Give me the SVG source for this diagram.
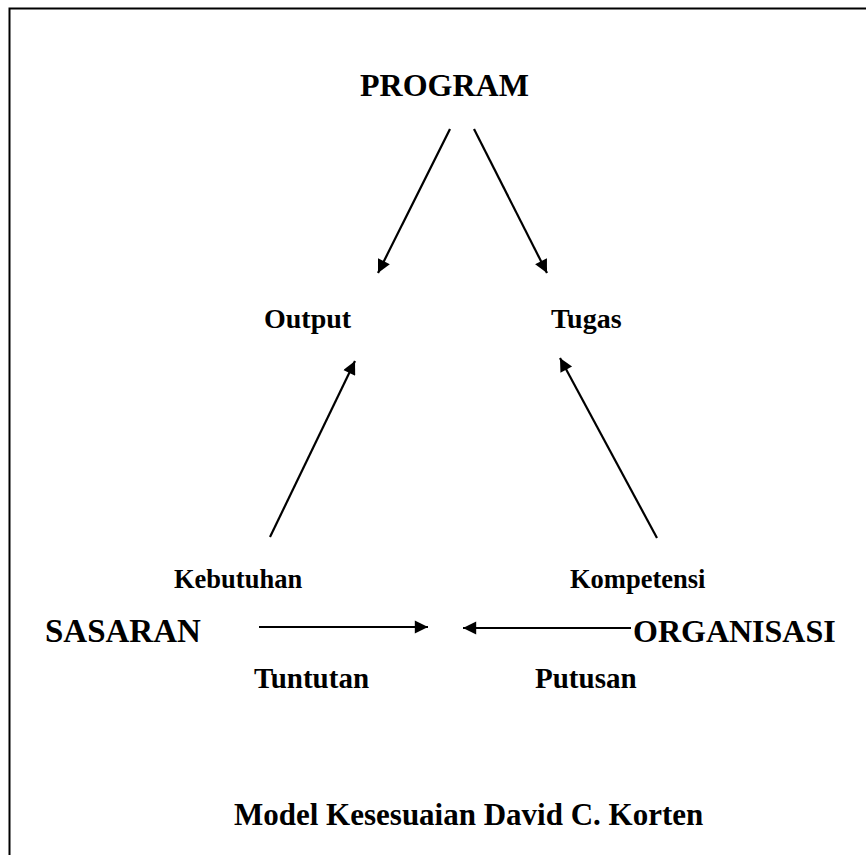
<svg xmlns="http://www.w3.org/2000/svg" width="866" height="855" viewBox="0 0 866 855">
<style>
text{font-family:"Liberation Serif","Times New Roman",serif;font-weight:bold;fill:#000}
.big{font-size:32px}
.mid{font-size:28px}
.lab{font-size:29px}
.cap{font-size:31px}
.sm{font-size:26.5px}
.conn line{stroke:#000;stroke-width:2.2;fill:none}
</style>
<defs>
<marker id="ah" viewBox="0 0 10 10" refX="10" refY="5" markerWidth="7" markerHeight="6" markerUnits="strokeWidth" orient="auto">
<path d="M0,0 L10,5 L0,10 Z" fill="#000"/>
</marker>
</defs>
<rect width="866" height="855" fill="#fff"/>
<path d="M9.5,860 V8.5 H870" fill="none" stroke="#000" stroke-width="2"/>
<g id="program"><text class="big" x="360" y="96">PROGRAM</text></g>
<g id="output"><text class="mid" x="264" y="328">Output</text></g>
<g id="tugas"><text class="mid" x="551" y="328">Tugas</text></g>
<g id="kebutuhan"><text class="sm" x="174" y="588">Kebutuhan</text></g>
<g id="kompetensi"><text class="sm" x="570" y="588">Kompetensi</text></g>
<g id="sasaran"><text style="font-size:33px" x="45" y="642">SASARAN</text></g>
<g id="organisasi"><text class="big" x="633" y="642">ORGANISASI</text></g>
<g id="tuntutan"><text class="lab" x="254" y="688">Tuntutan</text></g>
<g id="putusan"><text class="lab" x="535" y="688">Putusan</text></g>
<g id="caption"><text class="cap" x="234" y="825">Model Kesesuaian David C. Korten</text></g>
<g class="conn" id="connectors">
<line x1="450" y1="129" x2="378" y2="273" marker-end="url(#ah)"/>
<line x1="474" y1="129" x2="547" y2="273" marker-end="url(#ah)"/>
<line x1="270" y1="537" x2="355" y2="361" marker-end="url(#ah)"/>
<line x1="657" y1="538" x2="560" y2="358" marker-end="url(#ah)"/>
<line x1="259" y1="627" x2="428" y2="627" marker-end="url(#ah)"/>
<line x1="631" y1="628" x2="463" y2="628" marker-end="url(#ah)"/>
</g>
</svg>
